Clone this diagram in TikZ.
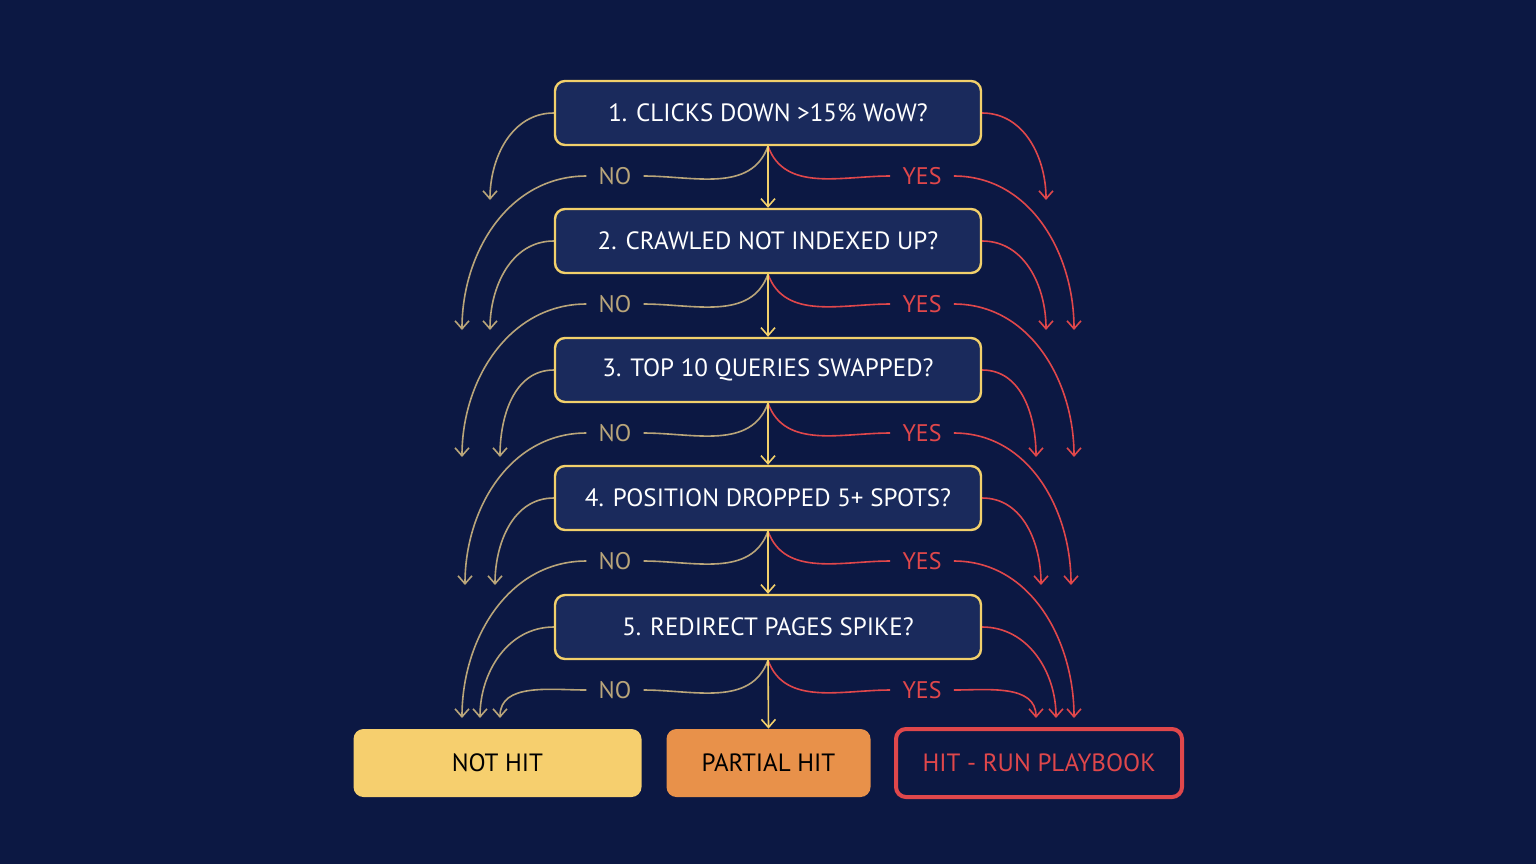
\documentclass[tikz,border=0pt]{standalone}
\usepackage{fontspec}
\setmainfont{PT Sans}
\usetikzlibrary{positioning,arrows.meta}
\definecolor{bgnavy}{HTML}{0C1843}
\definecolor{boxnavy}{HTML}{1A2A5C}
\definecolor{goldline}{HTML}{F2D06B}
\definecolor{notan}{HTML}{B9A57A}
\definecolor{yesred}{HTML}{E0474B}
\definecolor{nothit}{HTML}{F6CF6E}
\definecolor{parthit}{HTML}{E8914A}
\begin{document}
\begin{tikzpicture}[x=0.5pt,y=-0.5pt,
	% question boxes
	qbox/.style={draw=goldline, very thick, fill=boxnavy, rounded corners=5pt,
		minimum width=213pt, minimum height=32pt, text=white, font=\fontsize{12.5}{14}\selectfont},
	% result boxes
	rbox/.style={rounded corners=5pt, minimum height=34pt, font=\fontsize{12.5}{14}\selectfont},
	nolabel/.style={text=notan, font=\fontsize{12}{14}\selectfont, inner sep=6pt},
	yeslabel/.style={text=yesred, font=\fontsize{12}{14}\selectfont, inner sep=6pt},
	noline/.style={draw=notan, thick, -{Straight Barb[length=4pt,width=7pt]}},
	yesline/.style={draw=yesred, thick, -{Straight Barb[length=4pt,width=7pt]}},
	downline/.style={draw=goldline, thick, -{Straight Barb[length=4pt,width=7pt]}}
	]
	\fill[bgnavy] (0,0) rectangle (1536,864);
	
	% Questions
	\foreach \i/\yy/\txt in {1/113/{1. CLICKS DOWN >15\% WoW?},
		2/241/{2. CRAWLED NOT INDEXED UP?},
		3/370/{3. TOP 10 QUERIES SWAPPED?},
		4/498/{4. POSITION DROPPED 5+ SPOTS?},
		5/627/{5. REDIRECT PAGES SPIKE?}}{
		\node[qbox] (q\i) at (768,\yy) {\txt};
		\node[nolabel] (no\i) at (615,\yy+63) {NO};
		\node[yeslabel] (yes\i) at (922,\yy+63) {YES};
	}
	
	% Results
	\node[rbox, fill=nothit, minimum width=144pt] (nhit) at (497.5,763) {NOT HIT};
	\node[rbox, fill=parthit, minimum width=102pt] (phit) at (768.5,763) {PARTIAL HIT};
	\node[rbox, draw=yesred, line width=2pt, fill=bgnavy, text=yesred, minimum width=143pt] (hit) at (1039,763) {HIT - RUN PLAYBOOK};
	
	% Arrow end points
	\foreach \i/\sx/\sy/\nx/\ny in {1/490/200/462/330, 2/490/330/462/457,
		3/500/457/465/585, 4/495/585/462/718, 5/480/718/500/718}{
		\coordinate (sl\i) at (\sx,\sy);
		\coordinate (nl\i) at (\nx,\ny);
		\coordinate (sr\i) at (1536-\sx,\sy);
		\coordinate (nr\i) at (1536-\nx,\ny);
	}
	
	% Connectors
	\foreach \i in {1,...,5}{
		\draw[noline, -] (q\i.south) to[out=-110,in=0] (no\i.east);
		\draw[yesline, -] (q\i.south) to[out=-70,in=180] (yes\i.west);
		\draw[noline] (no\i.west) to[out=180,in=90] (nl\i);
		\draw[yesline] (yes\i.east) to[out=0,in=90] (nr\i);
		\draw[noline] (q\i.west) to[out=180,in=90] (sl\i);
		\draw[yesline] (q\i.east) to[out=0,in=90] (sr\i);
	}
	\foreach \i/\j in {1/2,2/3,3/4,4/5}{
		\draw[downline] (q\i.south) -- (q\j.north);
	}
	\draw[downline] (q5.south) -- (phit.north);
\end{tikzpicture}
\end{document}
